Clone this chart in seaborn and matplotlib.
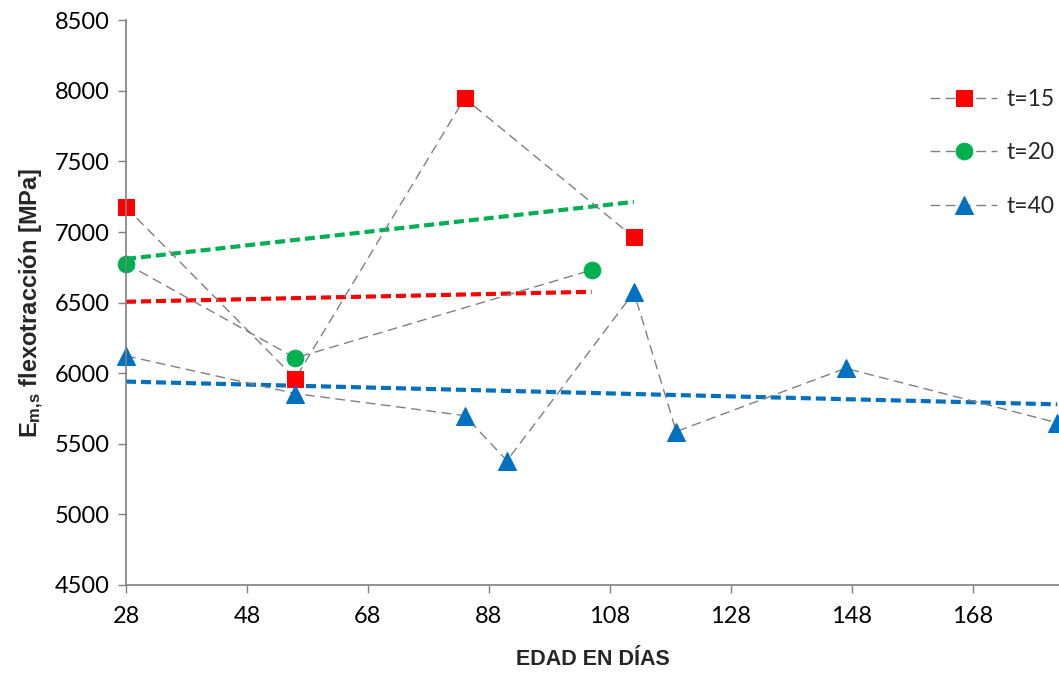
import numpy as np
import pandas as pd
import matplotlib
matplotlib.use("Agg")
import matplotlib.pyplot as plt
import seaborn as sns

# ---- data ----
days_t15 = [28, 56, 84, 112]
vals_t15 = [7175, 5962, 7948, 6962]
days_t20 = [28, 56, 105]
vals_t20 = [6776, 6108, 6731]
days_t40 = [28, 56, 84, 91, 112, 119, 147, 182]
vals_t40 = [6123, 5856, 5700, 5380, 6573, 5587, 6035, 5649]
series_labels = ["t=15", "t=20", "t=40"]
x_ticks = [28, 48, 68, 88, 108, 128, 148, 168]
y_ticks = [4500, 5000, 5500, 6000, 6500, 7000, 7500, 8000, 8500]

RED = "#FF0000"
GREEN = "#00B050"
BLUE = "#0070C0"
GRAY = "#808080"
LABEL_FONT = ["Liberation Sans", "DejaVu Sans"]

sns.set_theme(style="white")
plt.rcParams["font.family"] = ["Lato", "DejaVu Sans"]
plt.rcParams["mathtext.fontset"] = "custom"
plt.rcParams["mathtext.rm"] = "Liberation Sans"
plt.rcParams["mathtext.bf"] = "Liberation Sans:bold"
plt.rcParams["mathtext.it"] = "Liberation Sans:italic"

fig = plt.figure(figsize=(10.59, 6.73), dpi=100)
ax = fig.add_axes([0.119, 0.1308, 0.881, 0.839])

df15 = pd.DataFrame({"x": days_t15, "y": vals_t15})
df20 = pd.DataFrame({"x": days_t20, "y": vals_t20})
df40 = pd.DataFrame({"x": days_t40, "y": vals_t40})

# trend lines (colours as in the original chart)
tl_kws = dict(lw=3.0, dashes=(2.4, 1.2), dash_capstyle="butt")
sns.regplot(data=df20, x="x", y="y", ax=ax, scatter=False, ci=None, truncate=True,
            color=RED, line_kws=tl_kws)
sns.regplot(data=df15, x="x", y="y", ax=ax, scatter=False, ci=None, truncate=True,
            color=GREEN, line_kws=tl_kws)
sns.regplot(data=df40, x="x", y="y", ax=ax, scatter=False, ci=None, truncate=True,
            color=BLUE, line_kws=tl_kws)

line_kws = dict(color=GRAY, lw=1.0, dashes=(7, 4), sort=False, clip_on=False)
sns.lineplot(data=df15, x="x", y="y", ax=ax, marker="s", markersize=11,
             markerfacecolor=RED, markeredgecolor=RED, label=series_labels[0], **line_kws)
sns.lineplot(data=df20, x="x", y="y", ax=ax, marker="o", markersize=12,
             markerfacecolor=GREEN, markeredgecolor=GREEN, label=series_labels[1], **line_kws)
sns.lineplot(data=df40, x="x", y="y", ax=ax, marker="^", markersize=13,
             markerfacecolor=BLUE, markeredgecolor=BLUE, label=series_labels[2], **line_kws)

ax.set_xlim(28, 182.3)
ax.set_ylim(4500, 8500)
ax.set_xticks(x_ticks)
ax.set_yticks(y_ticks)
ax.tick_params(axis="both", labelsize=17, labelcolor="#000000", length=6, width=1,
               direction="out", color=GRAY, bottom=True, left=True)
ax.tick_params(axis="x", pad=9)
ax.tick_params(axis="y", pad=6)
for s in ["top", "right"]:
    ax.spines[s].set_visible(False)
for s in ["left", "bottom"]:
    ax.spines[s].set_color(GRAY)
    ax.spines[s].set_linewidth(1.2)
ax.grid(False)

ax.set_xlabel("EDAD EN DÍAS", fontsize=15.5, fontweight="bold", family=LABEL_FONT, labelpad=16)
ax.set_ylabel(r"E$_{\mathbf{m{,}s}}$ flexotracción [MPa]", fontsize=17, fontweight="bold",
              family=LABEL_FONT, labelpad=6)

leg = ax.legend(loc="upper left", bbox_to_anchor=(0.870, 0.882), bbox_transform=fig.transFigure,
                frameon=False, fontsize=16.5, handlelength=2.9, labelspacing=1.42,
                handletextpad=0.4, borderaxespad=0)

fig.savefig("out.png", dpi=100)
